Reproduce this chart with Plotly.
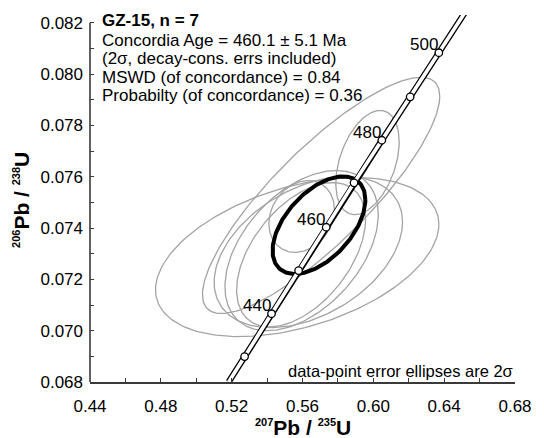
import numpy as np
import plotly.graph_objects as go

# ---------------- data ----------------
# concordia tick marks (Ma) and their positions
conc_age = [430, 440, 450, 460, 470, 480, 490, 500]
conc_x = [0.5273, 0.5425, 0.5578, 0.5734, 0.5891, 0.6048, 0.6208, 0.6370]
conc_y = [0.06899, 0.07066, 0.07234, 0.07403, 0.07576, 0.07742, 0.07911, 0.08083]
label_ages = [440, 460, 480, 500]
# where the concordia band leaves the plot
conc_end_x = [0.5183, 0.6541]
conc_end_y = [0.06800, 0.08265]

# data-point error ellipses: centre, half-extent in x and y, correlation
ell_x = [0.5570, 0.5705, 0.5633, 0.5595, 0.5592, 0.5967, 0.5595]
ell_y = [0.07287, 0.07527, 0.07306, 0.07312, 0.07296, 0.07655, 0.07445]
ell_ax = [0.0800, 0.0670, 0.0532, 0.0433, 0.0364, 0.0179, 0.0185]
ell_ay = [0.00310, 0.00460, 0.00294, 0.00312, 0.00281, 0.00203, 0.00140]
ell_rho = [0.41, 0.84, 0.40, 0.45, 0.49, 0.40, 0.20]

# concordia-age ellipse
age_x, age_y, age_ax, age_ay, age_rho = 0.5693, 0.07411, 0.02620, 0.001900, 0.52

title_lines = [
    "<b>GZ-15, n = 7</b>",
    "Concordia Age = 460.1 ± 5.1 Ma",
    "(2σ, decay-cons. errs included)",
    "MSWD (of concordance) = 0.84",
    "Probabilty (of concordance) = 0.36",
]
note = "data-point error ellipses are 2σ"

X_RANGE = [0.44, 0.68]
Y_MIN, Y_MAX_TICK = 0.068, 0.082

# ---------------- layout geometry (pixels) ----------------
W, H = 544, 438
ML, MR, MB, MT = 90, 17, 56, 15
PW, PH = W - ML - MR, H - MT - MB
y_per_px = (Y_MAX_TICK - Y_MIN) / (382.3 - 23.0)
Y_TOP = Y_MIN + PH * y_per_px


def px(x):
    return (x - ML) / PW


def py(y):
    return (H - MB - y) / PH


def ellipse(cx, cy, ax, ay, rho, n=200):
    t = np.linspace(0, 2 * np.pi, n)
    s = np.sqrt(1 - rho ** 2)
    return cx + ax * np.cos(t), cy + ay * (rho * np.cos(t) + s * np.sin(t))


FONT = "Liberation Sans, Arial, Helvetica, sans-serif"
fig = go.Figure()

for cx, cy, ax, ay, r in zip(ell_x, ell_y, ell_ax, ell_ay, ell_rho):
    ex, ey = ellipse(cx, cy, ax, ay, r)
    fig.add_trace(go.Scatter(x=ex, y=ey, mode="lines",
                             line=dict(color="#a3a3a3", width=1.3),
                             hoverinfo="skip", showlegend=False))

ex, ey = ellipse(age_x, age_y, age_ax, age_ay, age_rho)
fig.add_trace(go.Scatter(x=ex, y=ey, mode="lines",
                         line=dict(color="black", width=4),
                         hoverinfo="skip", showlegend=False))

band_x = [conc_end_x[0]] + conc_x + [conc_end_x[1]]
band_y = [conc_end_y[0]] + conc_y + [conc_end_y[1]]
fig.add_trace(go.Scatter(x=band_x, y=band_y, mode="lines",
                         line=dict(color="black", width=6.2),
                         hoverinfo="skip", showlegend=False))
fig.add_trace(go.Scatter(x=band_x, y=band_y, mode="lines",
                         line=dict(color="white", width=3.6),
                         hoverinfo="skip", showlegend=False))
fig.add_trace(go.Scatter(x=conc_x, y=conc_y, mode="markers",
                         marker=dict(size=7.5, color="white",
                                     line=dict(color="black", width=1.3)),
                         hoverinfo="skip", showlegend=False, cliponaxis=False))

ann = []
for a, x, y in zip(conc_age, conc_x, conc_y):
    if a in label_ages:
        ann.append(dict(x=x, y=y, xref="x", yref="y", text=str(a),
                        showarrow=False, xanchor="right", yanchor="middle",
                        xshift=1, yshift=8,
                        font=dict(family=FONT, size=17, color="black")))

line_y = [20.7, 40.0, 58.5, 77.0, 95.5]
for t, yy in zip(title_lines, line_y):
    ann.append(dict(x=px(100), y=py(yy), xref="paper", yref="paper", text=t,
                    showarrow=False, xanchor="left", yanchor="middle",
                    font=dict(family=FONT, size=17, color="black")))

ann.append(dict(x=px(527), y=py(370.7), xref="paper", yref="paper", text=note,
                showarrow=False, xanchor="right", yanchor="middle",
                font=dict(family=FONT, size=16.5, color="black")))

sup = '<span style="font-size:11px">{}</span>'
xt = "<b><sup>" + sup.format("207") + "</sup>Pb / <sup>" + sup.format("235") + "</sup>U</b>"
yt = "<b><sup>" + sup.format("206") + "</sup>Pb / <sup>" + sup.format("238") + "</sup>U</b>"
ann.append(dict(x=px(308.5), y=py(427), xref="paper", yref="paper", text=xt,
                showarrow=False, xanchor="center", yanchor="middle",
                font=dict(family=FONT, size=21, color="black")))
ann.append(dict(x=px(19), y=py(200), xref="paper", yref="paper", text=yt,
                showarrow=False, xanchor="center", yanchor="middle", textangle=-90,
                font=dict(family=FONT, size=21, color="black")))

AX = "#3a3a3a"
fig.update_layout(
    width=W, height=H,
    margin=dict(l=ML, r=MR, t=MT, b=MB, pad=0),
    paper_bgcolor="white", plot_bgcolor="white",
    showlegend=False,
    annotations=ann,
    shapes=[dict(type="line", xref="paper", yref="y", x0=0, x1=0,
                 y0=Y_MIN, y1=Y_MAX_TICK, line=dict(color=AX, width=1.6))],
    xaxis=dict(range=X_RANGE, tick0=0.44, dtick=0.04, tickformat=".2f",
               showgrid=False, zeroline=False, showline=True, linecolor=AX,
               linewidth=1.6, ticks="inside", ticklen=4, tickcolor=AX, tickwidth=1.2,
               minor=dict(dtick=0.02, ticks="inside", ticklen=4, tickcolor=AX,
                          tickwidth=1.2, showgrid=False),
               tickfont=dict(family=FONT, size=17, color="black"), ticklabelstandoff=8),
    yaxis=dict(range=[Y_MIN, Y_TOP], tick0=0.068, dtick=0.002, tickformat=".3f",
               showgrid=False, zeroline=False, showline=False,
               ticks="inside", ticklen=4, tickcolor=AX, tickwidth=1.2,
               minor=dict(dtick=0.001, ticks="inside", ticklen=4, tickcolor=AX,
                          tickwidth=1.2, showgrid=False),
               tickfont=dict(family=FONT, size=17, color="black"), ticklabelstandoff=6),
)

fig.write_html("out.html")
